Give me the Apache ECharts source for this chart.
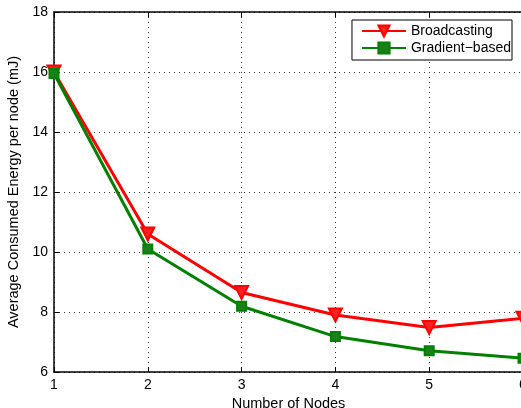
<!DOCTYPE html>
<html><head><meta charset="utf-8">
<script src="https://cdn.jsdelivr.net/npm/echarts@6/dist/echarts.min.js"></script>
<style>html,body{margin:0;padding:0;background:#fff}#c{width:521px;height:408px}</style>
</head><body><div id="c"></div>
<script>
const nodes = [1, 2, 3, 4, 5, 6];
const broadcasting = [16.0, 10.6, 8.65, 7.9, 7.48, 7.79];
const gradientBased = [15.95, 10.1, 8.19, 7.18, 6.71, 6.46];
const yTicks = [6, 8, 10, 12, 14, 16, 18];

const font = 'Liberation Sans, Arial, sans-serif';
const chart = echarts.init(document.getElementById('c'));
const pairs = (ys) => nodes.map((x, i) => [x, ys[i]]);
const axisCommon = {
  axisLine: {show: true, lineStyle: {color: '#000', width: 1.5}},
  axisTick: {show: true, inside: true, length: 5, lineStyle: {color: '#000'}},
};
chart.setOption({
  animation: false,
  textStyle: {fontFamily: font},
  grid: {left: 54, top: 12, width: 469, height: 360, outerBoundsMode: 'none', containLabel: false},
  legend: {
    orient: 'vertical', right: 9, top: 20,
    backgroundColor: '#fff', borderColor: '#000', borderWidth: 1,
    padding: [4, 1, 5, 9], itemGap: 3, itemWidth: 44, itemHeight: 14,
    textStyle: {fontFamily: font, fontSize: 14, color: '#000'},
    data: ['Broadcasting', 'Gradient\u2212based']
  },
  xAxis: [{
    type: 'value', min: 1, max: 6, interval: 1,
    name: 'Number of Nodes', nameLocation: 'middle', nameGap: 15,
    nameTextStyle: {fontFamily: font, fontSize: 14.5, color: '#000'},
    ...axisCommon,
    axisLabel: {fontFamily: font, fontSize: 14, color: '#000', margin: 6},
    splitLine: {show: true, lineStyle: {color: '#333', type: [1, 4], width: 1}}
  }, {
    type: 'value', min: 1, max: 6, interval: 1, position: 'top',
    ...axisCommon, axisLabel: {show: false}, splitLine: {show: false}
  }],
  yAxis: [{
    type: 'value', min: 6, max: 18, interval: 2,
    name: 'Average Consumed Energy per node (mJ)', nameLocation: 'middle', nameGap: 24,
    nameTextStyle: {fontFamily: font, fontSize: 14.5, color: '#000'},
    ...axisCommon,
    axisLabel: {fontFamily: font, fontSize: 14, color: '#000', margin: 6,
      formatter: (v) => yTicks.includes(v) ? String(v) : ''},
    splitLine: {show: true, lineStyle: {color: '#333', type: [1, 4], width: 1}}
  }],
  series: [{
    name: 'Broadcasting', type: 'line', data: pairs(broadcasting),
    lineStyle: {color: '#ff0000', width: 3},
    symbol: 'triangle', symbolRotate: 180, symbolSize: 13,
    itemStyle: {color: '#ff2020', borderColor: '#ff0000', borderWidth: 2},
    z: 3
  }, {
    name: 'Gradient\u2212based', type: 'line', data: pairs(gradientBased),
    lineStyle: {color: '#008000', width: 3},
    symbol: 'rect', symbolSize: 9,
    itemStyle: {color: '#1a801a', borderColor: '#008000', borderWidth: 2},
    z: 4
  }]
});
</script></body></html>
